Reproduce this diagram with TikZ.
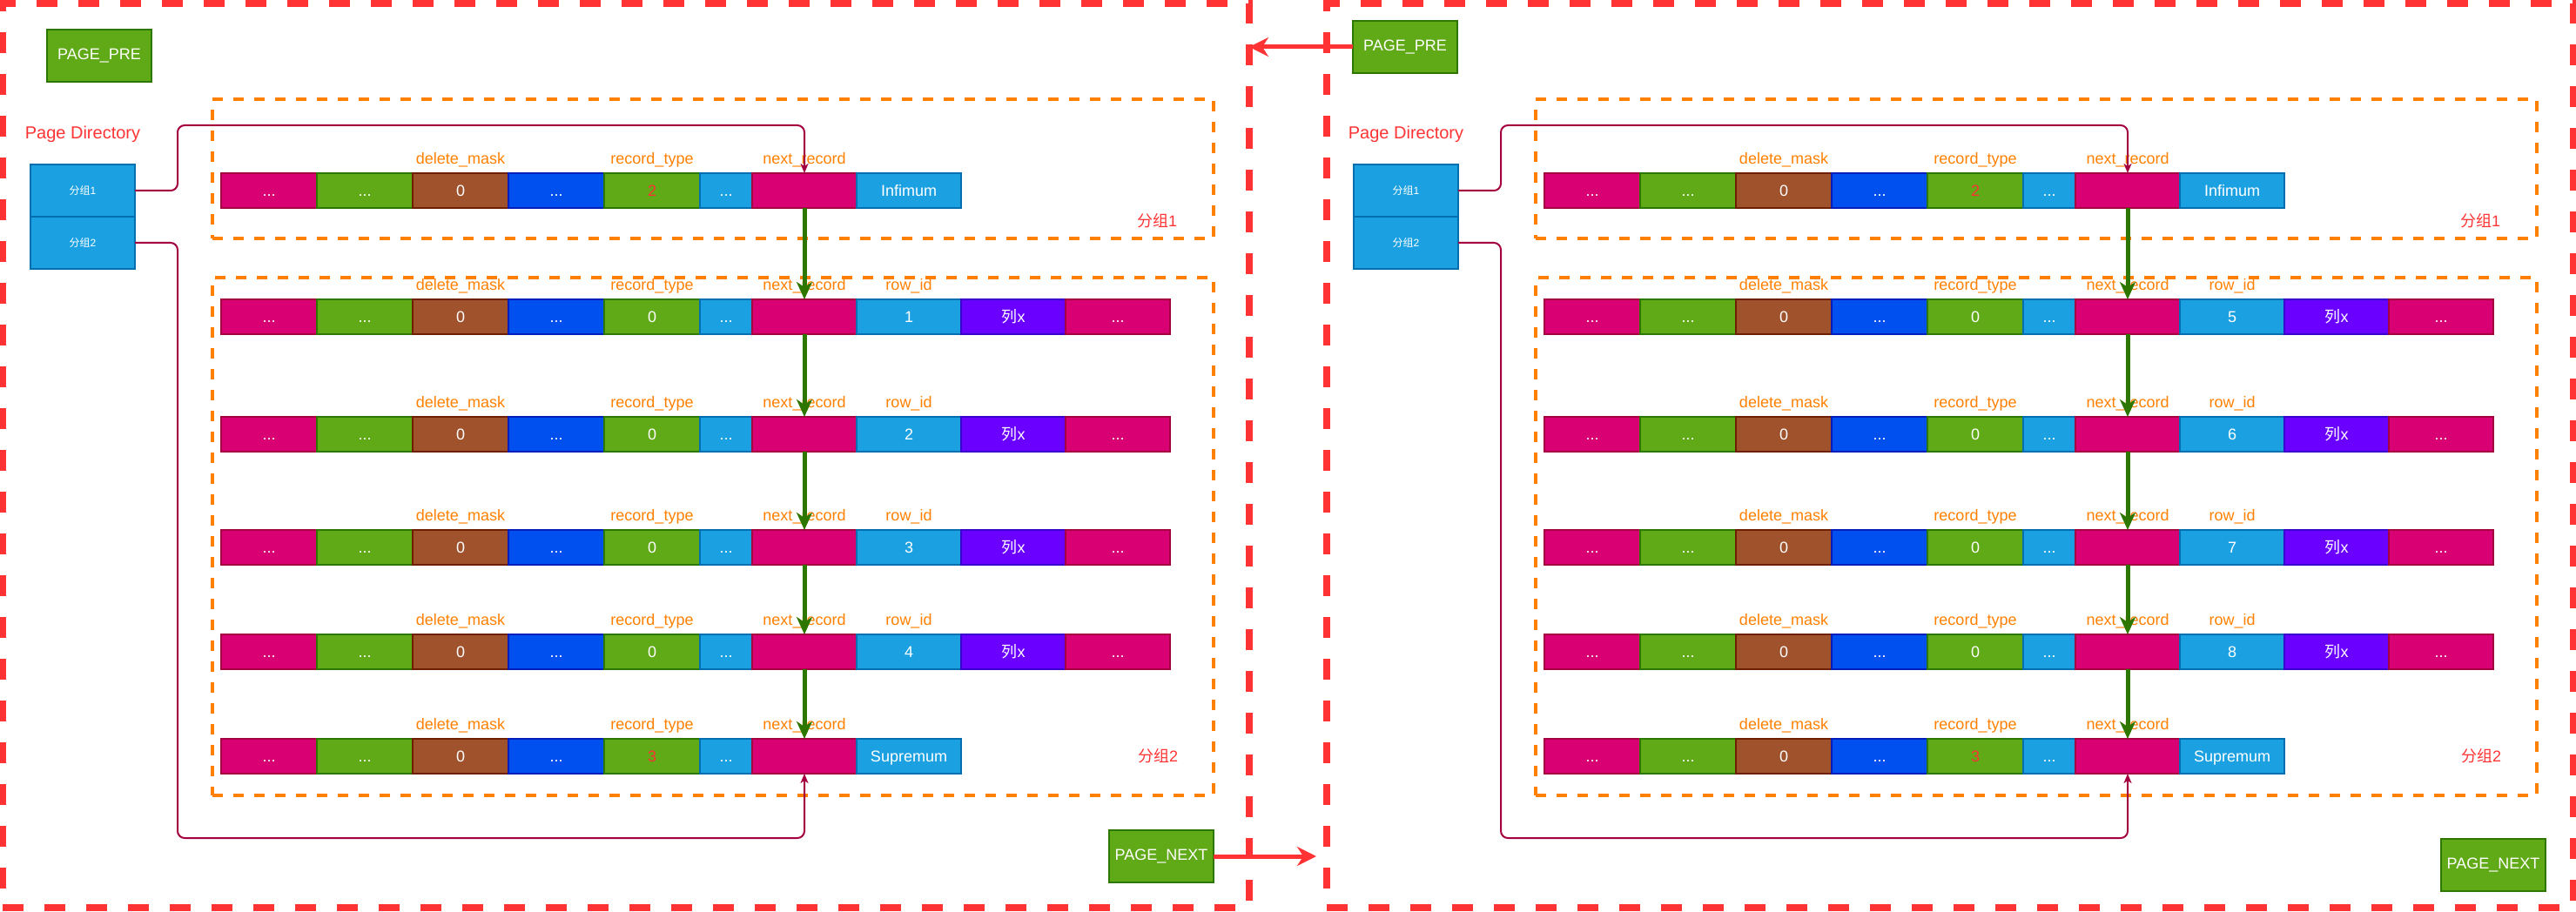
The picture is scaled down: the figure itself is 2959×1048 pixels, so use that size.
\documentclass[tikz,border=0pt]{standalone}
\usepackage{fontspec}
\setmainfont{Liberation Sans}
\newfontfamily\cjk{Noto Sans CJK SC}
\usetikzlibrary{arrows.meta,positioning,calc}

\definecolor{pinkf}{HTML}{D80073}
\definecolor{pinkd}{HTML}{A50040}
\definecolor{greenf}{HTML}{60A917}
\definecolor{greend}{HTML}{2D7600}
\definecolor{brownf}{HTML}{A0522D}
\definecolor{brownd}{HTML}{6D1F00}
\definecolor{bluef}{HTML}{0050EF}
\definecolor{blued}{HTML}{001DBC}
\definecolor{cyanf}{HTML}{1BA1E2}
\definecolor{cyand}{HTML}{006EAF}
\definecolor{purplef}{HTML}{6A00FF}
\definecolor{purpled}{HTML}{3700CC}
\definecolor{fieldorange}{HTML}{FF8000}
\definecolor{pagered}{HTML}{FF3333}

\tikzset{
  cellbox/.style={draw, line width=1.5pt, minimum width=110pt, minimum height=40pt,
    inner sep=0pt, outer sep=0pt, text=white, text height=13pt, text depth=0pt,
    font=\fontsize{18}{20}\selectfont},
  fieldlbl/.style={text=fieldorange, inner sep=0pt, font=\fontsize{18}{20}\selectfont},
  grplbl/.style={text=pagered, inner sep=0pt, font=\fontsize{18}{20}\selectfont},
  pagebox/.style={draw=greend, fill=greenf, line width=1.5pt, minimum width=120pt,
    minimum height=60pt, inner sep=0pt, outer sep=0pt, text=white, font=\fontsize{18}{20}\selectfont},
  dirbox/.style={draw=cyand, fill=cyanf, line width=1.5pt, minimum width=120pt,
    minimum height=60pt, inner sep=0pt, outer sep=0pt, text=white, font=\fontsize{12}{14}\selectfont},
  pageframe/.style={draw=pagered, line width=7.5pt, dash pattern=on 24pt off 24pt,
    minimum width=1432pt, minimum height=1039pt, outer sep=0pt, anchor=north west},
  groupframe/.style={draw=fieldorange, line width=4pt, dash pattern=on 12pt off 12pt,
    minimum width=1150pt, outer sep=0pt, anchor=north west},
  nextarrow/.style={draw=greend, line width=5pt, -{Stealth[length=20pt,width=18pt,inset=6pt]}},
  dirlink/.style={draw=pinkd, line width=2pt, rounded corners=8pt, -{Stealth[length=11pt,width=9pt,inset=3pt]}},
  pagelink/.style={draw=pagered, line width=5pt, -{Stealth[length=22pt,width=22pt,inset=7pt]}}
}

% first seven fields of a record: name, x, y, record_type, its colour
\newcommand{\recordhead}[5]{
  \node[cellbox, fill=pinkf, draw=pinkd, anchor=north west] (#1-1) at (#2,#3) {...};
  \node[cellbox, fill=greenf, draw=greend, right=0pt of #1-1] (#1-2) {...};
  \node[cellbox, fill=brownf, draw=brownd, right=0pt of #1-2] (#1-3) {0};
  \node[cellbox, fill=bluef, draw=blued, right=0pt of #1-3] (#1-4) {...};
  \node[cellbox, fill=greenf, draw=greend, text=#5, right=0pt of #1-4] (#1-5) {#4};
  \node[cellbox, fill=cyanf, draw=cyand, minimum width=60pt, right=0pt of #1-5] (#1-6) {...};
  \node[cellbox, fill=pinkf, draw=pinkd, minimum width=120pt, right=0pt of #1-6] (#1-n) {};
  \node[fieldlbl] (#1-dm) at ([yshift=15pt]#1-3.north) {delete\_mask};
  \node[fieldlbl] (#1-rt) at ([yshift=15pt]#1-5.north) {record\_type};
  \node[fieldlbl] (#1-nr) at ([yshift=15pt]#1-n.north) {next\_record};
}

% user record: name, x, y, row_id
\newcommand{\recordrow}[4]{
  \recordhead{#1}{#2}{#3}{0}{white}
  \node[cellbox, fill=cyanf, draw=cyand, minimum width=120pt, right=0pt of #1-n] (#1-id) {#4};
  \node[cellbox, fill=purplef, draw=purpled, minimum width=120pt, right=0pt of #1-id] (#1-col) {{\cjk 列}x};
  \node[cellbox, fill=pinkf, draw=pinkd, minimum width=120pt, right=0pt of #1-col] (#1-end) {...};
  \node[fieldlbl] (#1-ri) at ([yshift=15pt]#1-id.north) {row\_id};
}

\begin{document}
\begin{tikzpicture}[x=1pt, y=-1pt]
\useasboundingbox (0,0) rectangle (2959,1048);

% pages
\node[pageframe] (page1) at (3,4) {};
\node[pageframe] (page2) at (1524,4) {};

% groups
\node[groupframe, minimum height=160pt] (grpa1) at (244,114) {};
\node[groupframe, minimum height=595pt] (grpa2) at (244,319) {};
\node[groupframe, minimum height=160pt] (grpb1) at (1764,114) {};
\node[groupframe, minimum height=595pt] (grpb2) at (1764,319) {};
\node[grplbl] (grpa1-lbl) at (1329,254) {{\cjk 分组}1};
\node[grplbl] (grpa2-lbl) at (1330,869) {{\cjk 分组}2};
\node[grplbl] (grpb1-lbl) at (2849,254) {{\cjk 分组}1};
\node[grplbl] (grpb2-lbl) at (2850,869) {{\cjk 分组}2};

% page links
\node[pagebox, anchor=north west] (pre1) at (54,34) {PAGE\_PRE};
\node[pagebox, anchor=north west] (next1) at (1274,954) {PAGE\_NEXT};
\node[pagebox, anchor=north west] (pre2) at (1554,24) {PAGE\_PRE};
\node[pagebox, anchor=north west] (next2) at (2804,964) {PAGE\_NEXT};

% page directory
\node[text=pagered, font=\fontsize{20}{22}\selectfont] (pdira) at (95,154) {Page Directory};
\node[dirbox, anchor=north west] (pda1) at (35,189) {{\cjk 分组}1};
\node[dirbox, below=0pt of pda1] (pda2) {{\cjk 分组}2};
\node[text=pagered, font=\fontsize{20}{22}\selectfont] (pdirb) at (1615,154) {Page Directory};
\node[dirbox, anchor=north west] (pdb1) at (1555,189) {{\cjk 分组}1};
\node[dirbox, below=0pt of pdb1] (pdb2) {{\cjk 分组}2};

% left page records
\recordhead{a1}{254}{199}{2}{pagered}
\node[cellbox, fill=cyanf, draw=cyand, minimum width=120pt, right=0pt of a1-n] (a1-inf) {Infimum};
\recordrow{a2}{254}{344}{1}
\recordrow{a3}{254}{479}{2}
\recordrow{a4}{254}{609}{3}
\recordrow{a5}{254}{729}{4}
\recordhead{a6}{254}{849}{3}{pagered}
\node[cellbox, fill=cyanf, draw=cyand, minimum width=120pt, right=0pt of a6-n] (a6-sup) {Supremum};

% right page records
\recordhead{b1}{1774}{199}{2}{pagered}
\node[cellbox, fill=cyanf, draw=cyand, minimum width=120pt, right=0pt of b1-n] (b1-inf) {Infimum};
\recordrow{b2}{1774}{344}{5}
\recordrow{b3}{1774}{479}{6}
\recordrow{b4}{1774}{609}{7}
\recordrow{b5}{1774}{729}{8}
\recordhead{b6}{1774}{849}{3}{pagered}
\node[cellbox, fill=cyanf, draw=cyand, minimum width=120pt, right=0pt of b6-n] (b6-sup) {Supremum};

\begin{scope}[nextarrow]
\draw (a1-n.south) -- (a2-n.north);
\draw (a2-n.south) -- (a3-n.north);
\draw (a3-n.south) -- (a4-n.north);
\draw (a4-n.south) -- (a5-n.north);
\draw (a5-n.south) -- (a6-n.north);
\draw (b1-n.south) -- (b2-n.north);
\draw (b2-n.south) -- (b3-n.north);
\draw (b3-n.south) -- (b4-n.north);
\draw (b4-n.south) -- (b5-n.north);
\draw (b5-n.south) -- (b6-n.north);
\end{scope}

\begin{scope}[dirlink]
\draw (pda1.east) -- ++(49pt,0) |- ([yshift=55pt]a1-n.north) -- (a1-n.north);
\draw (pda2.east) -- ++(49pt,0) |- ([yshift=-74pt]a6-n.south) -- (a6-n.south);
\draw (pdb1.east) -- ++(49pt,0) |- ([yshift=55pt]b1-n.north) -- (b1-n.north);
\draw (pdb2.east) -- ++(49pt,0) |- ([yshift=-74pt]b6-n.south) -- (b6-n.south);
\end{scope}

\draw[pagelink] (pre2.west) -- (pre2.west -| page1.east);
\draw[pagelink] (next1.east) -- ($(next1.east -| page2.west)+(-12pt,0)$);

\end{tikzpicture}
\end{document}
